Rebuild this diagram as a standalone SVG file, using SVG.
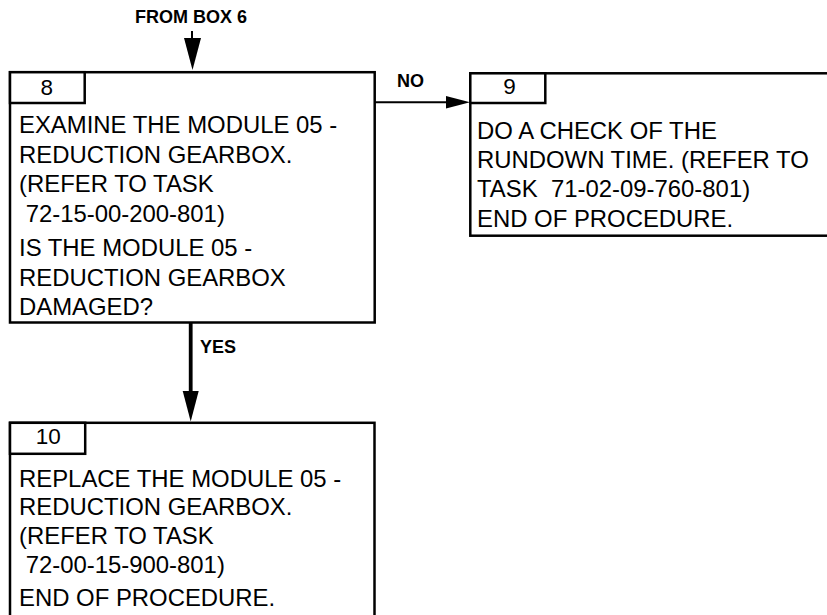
<svg xmlns="http://www.w3.org/2000/svg" width="827" height="615" viewBox="0 0 827 615">
<style>
.box{fill:#fff;stroke:#000;stroke-width:2.5}
.t{font-family:"Liberation Sans",Arial,sans-serif;font-size:23.9px;fill:#000;white-space:pre}
.n{font-family:"Liberation Sans",Arial,sans-serif;font-size:22.5px;fill:#000;text-anchor:middle}
.lbl{font-family:"Liberation Sans",Arial,sans-serif;font-size:18px;font-weight:bold;fill:#000}
.ln{stroke:#000;fill:none}
</style>
<rect width="827" height="615" fill="#fff"/>
<g id="connectors">
  <line class="ln" x1="192" y1="31" x2="192" y2="42" stroke-width="2"/>
  <polygon points="184,38 201,38 192.5,70" fill="#000"/>
  <line class="ln" x1="375" y1="102.3" x2="450" y2="102.3" stroke-width="2"/>
  <polygon points="446,96 470,102.3 446,108.6" fill="#000"/>
  <line class="ln" x1="190.7" y1="323" x2="190.7" y2="395" stroke-width="3.8"/>
  <polygon points="182.7,391 198.7,391 190.7,421.5" fill="#000"/>
  <text class="lbl" x="135" y="22.7">FROM BOX 6</text>
  <text class="lbl" x="397" y="86.5">NO</text>
  <text class="lbl" x="200" y="352.7">YES</text>
</g>
<g id="box8">
  <rect class="box" x="10" y="72.2" width="364.7" height="250.3"/>
  <rect class="box" x="10" y="72.2" width="74.7" height="30.8"/>
  <text class="n" x="46.7" y="95">8</text>
  <text class="t" x="19" y="133.3">EXAMINE THE MODULE 05 -</text>
  <text class="t" x="19" y="162.7">REDUCTION GEARBOX.</text>
  <text class="t" x="19" y="191.7">(REFER TO TASK</text>
  <text class="t" x="19" y="221.7"> 72-15-00-200-801)</text>
  <text class="t" x="19" y="256">IS THE MODULE 05 -</text>
  <text class="t" x="19" y="286">REDUCTION GEARBOX</text>
  <text class="t" x="19" y="315">DAMAGED?</text>
</g>
<g id="box9">
  <rect class="box" x="470.3" y="73.3" width="370" height="162.4"/>
  <rect class="box" x="470.3" y="73.3" width="75" height="29.7"/>
  <text class="n" x="509.5" y="94.3">9</text>
  <text class="t" x="477" y="139.3">DO A CHECK OF THE</text>
  <text class="t" x="477" y="168.3">RUNDOWN TIME. (REFER TO</text>
  <text class="t" x="477" y="197">TASK  71-02-09-760-801)</text>
  <text class="t" x="477" y="226.7">END OF PROCEDURE.</text>
</g>
<g id="box10">
  <rect class="box" x="10" y="422.8" width="364.5" height="210"/>
  <rect class="box" x="10" y="422.8" width="75.2" height="31"/>
  <text class="n" x="48.3" y="444.3">10</text>
  <text class="t" x="19" y="486.7">REPLACE THE MODULE 05 -</text>
  <text class="t" x="19" y="515">REDUCTION GEARBOX.</text>
  <text class="t" x="19" y="544.3">(REFER TO TASK</text>
  <text class="t" x="19" y="573.3"> 72-00-15-900-801)</text>
  <text class="t" x="19" y="606">END OF PROCEDURE.</text>
</g>
</svg>
